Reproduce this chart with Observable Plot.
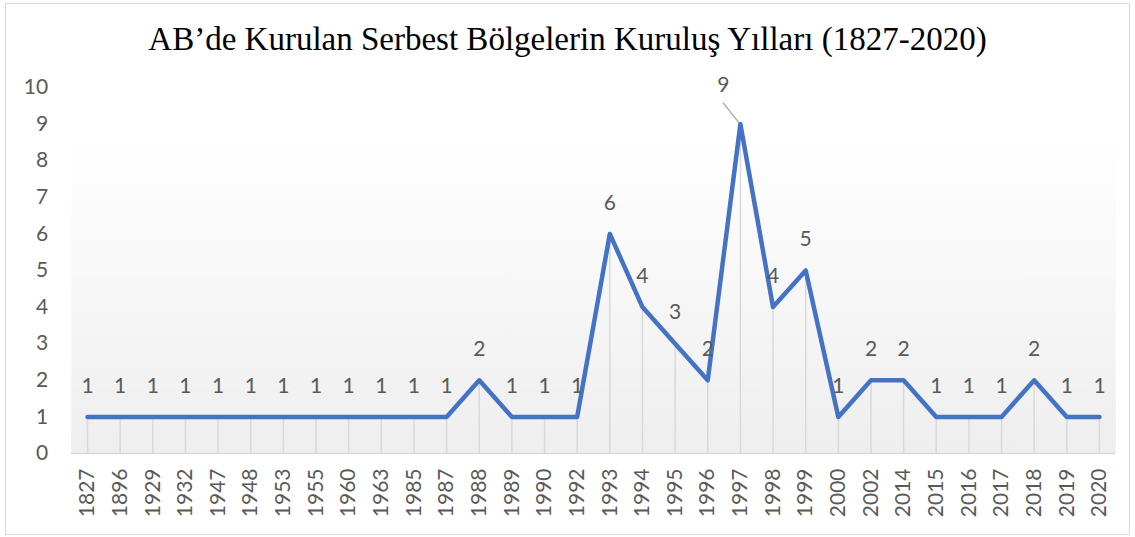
<!DOCTYPE html>
<html><head><meta charset="utf-8">
<script src="https://cdn.jsdelivr.net/npm/d3@7"></script>
<script src="https://cdn.jsdelivr.net/npm/@observablehq/plot@0.6"></script>
<style>
body{margin:0;background:#fff;}
#wrap{position:relative;width:1135px;height:537px;overflow:hidden;background:#fff;}
#box{position:absolute;left:5px;top:3px;width:1125px;height:532px;border:1px solid #d9d9d9;box-sizing:border-box;}
#title{position:absolute;left:0;top:20px;width:1135px;text-align:center;font-family:"Liberation Serif","Times New Roman",serif;font-size:33px;color:#000;line-height:38px;}
#chart{position:absolute;left:0;top:60px;}
</style></head><body>
<div id="wrap"><div id="box"></div><div id="title">AB’de Kurulan Serbest Bölgelerin Kuruluş Yılları (1827-2020)</div><div id="chart"></div></div>
<script>
const years = ["1827","1896","1929","1932","1947","1948","1953","1955","1960","1963","1985","1987","1988","1989","1990","1992","1993","1994","1995","1996","1997","1998","1999","2000","2002","2014","2015","2016","2017","2018","2019","2020"];
const counts = [1,1,1,1,1,1,1,1,1,1,1,1,2,1,1,1,6,4,3,2,9,4,5,1,2,2,1,1,1,2,1,1];
const yTicks = [0,1,2,3,4,5,6,7,8,9,10];

const data = years.map((y, i) => ({year: y, count: counts[i]}));
const maxCount = d3.max(counts);
const textColor = "#595959";
const font = "Lato, 'Liberation Sans', sans-serif";

const plot = Plot.plot({
  width: 1135,
  height: 477,
  marginTop: 27,
  marginBottom: 84,
  marginLeft: 70.7,
  marginRight: 19.7,
  style: {fontFamily: font, fontSize: "21px", color: textColor, background: "transparent", overflow: "visible"},
  x: {type: "point", domain: years, padding: 0.5, round: false, label: null},
  y: {domain: [0, 10], label: null},
  marks: [
    Plot.frame({fill: "url(#plotbg)", stroke: null}),
    Plot.ruleX(data, {x: "year", y1: 0, y2: "count", stroke: "#d9d9d9", strokeWidth: 1.5}),
    Plot.ruleY([0], {stroke: "#d9d9d9", strokeWidth: 1.5}),
    Plot.line(data, {x: "year", y: "count", stroke: "#4472C4", strokeWidth: 4.5, strokeLinejoin: "round", strokeLinecap: "round"}),
    Plot.text(data.filter(d => d.count !== maxCount), {x: "year", y: "count", text: d => String(d.count), dy: -31, fill: textColor, fontSize: 21, lineAnchor: "middle"}),
    Plot.text(data.filter(d => d.count === maxCount), {x: "year", y: "count", text: d => String(d.count), dx: -17, dy: -39, fill: textColor, fontSize: 21, lineAnchor: "middle"}),
    Plot.axisY({ticks: yTicks, tickSize: 0, tickPadding: 23, fontSize: 21, fill: textColor, label: null}),
    Plot.axisX({tickRotate: -90, tickSize: 0, tickPadding: 15, fontSize: 21, fill: textColor, label: null})
  ]
});

const svg = d3.select(plot);
const defs = svg.insert("defs", ":first-child");
const grad = defs.append("linearGradient").attr("id", "plotbg").attr("x1", 0).attr("y1", 0).attr("x2", 0).attr("y2", 1);
grad.append("stop").attr("offset", "0.13").attr("stop-color", "#ffffff");
grad.append("stop").attr("offset", "1").attr("stop-color", "#eeeeee");

// leader line for the moved peak label
const xs = plot.scale("x"), ys = plot.scale("y");
data.filter(d => d.count === maxCount).forEach(d => {
  const px = xs.apply(d.year), py = ys.apply(d.count);
  svg.append("line")
    .attr("x1", px - 17).attr("y1", py - 21)
    .attr("x2", px - 1).attr("y2", py - 1)
    .attr("stroke", "#a6a6a6").attr("stroke-width", 1.3);
});

document.getElementById("chart").appendChild(plot);
</script>
</body></html>
